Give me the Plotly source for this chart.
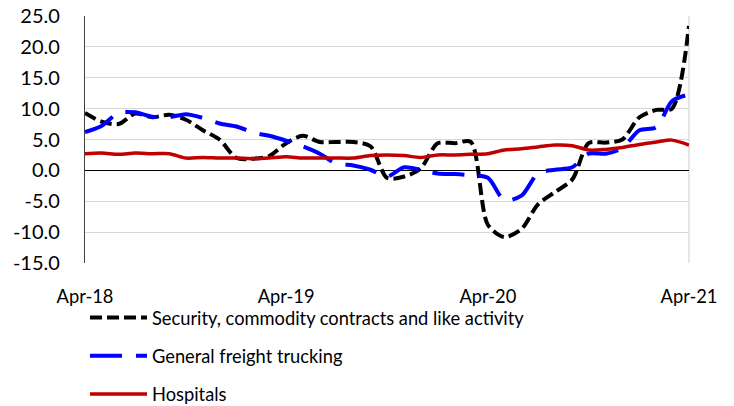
import pandas as pd
import plotly.graph_objects as go

months = pd.date_range("2018-04-01", "2021-04-01", freq="MS")

security = [9.3, 7.9, 7.5, 9.2, 8.6, 9.0, 8.2, 6.5, 5.0, 2.0,
            1.9, 2.3, 4.4, 5.6, 4.6, 4.6, 4.6, 3.9, -1.2, -1.0,
            0.3, 4.4, 4.4, 4.6, -8.8, -10.8, -9.5, -5.5, -3.5, -1.5,
            4.4, 4.5, 5.0, 8.6, 9.8, 10.0, 23.4]
trucking = [6.2, 7.2, 9.3, 9.4, 8.7, 8.6, 9.1, 8.5, 7.6, 7.1,
            6.1, 5.6, 4.8, 3.9, 2.7, 1.1, 0.8, 0.1, -1.0, 0.5,
            0.1, -0.5, -0.6, -0.8, -1.2, -4.8, -4.1, -0.5, 0.1, 0.5,
            2.7, 2.7, 3.6, 6.5, 7.0, 11.2, 12.3]
hospitals = [2.7, 2.8, 2.6, 2.8, 2.7, 2.7, 2.0, 2.1, 2.0, 2.0,
             1.9, 2.0, 2.2, 2.0, 2.0, 2.0, 2.0, 2.4, 2.5, 2.4,
             2.1, 2.5, 2.5, 2.6, 2.7, 3.3, 3.5, 3.8, 4.1, 4.0,
             3.3, 3.4, 3.7, 4.2, 4.6, 4.9, 4.1]

names = ["Security, commodity contracts and like activity",
         "General freight trucking", "Hospitals"]
x_tick_dates = ["2018-04-01", "2019-04-01", "2020-04-01", "2021-04-01"]
x_tick_text = ["Apr-18", "Apr-19", "Apr-20", "Apr-21"]
y_ticks = [-15, -10, -5, 0, 5, 10, 15, 20, 25]
y_tick_text = [f"{v:.1f}" for v in y_ticks]
y_range = [-15, 25]

FONT = "Lato"
FS = 18.3
FS_Y = 20

# layout geometry (pixels)
W, H = 734, 406
ML, MR, MT, MB = 85, 45, 16, 0
plot_bottom_px = 263
paper_h = H - MT - MB
dom0 = (H - MB - plot_bottom_px) / paper_h
zero_pos = dom0 + (0 - y_range[0]) / (y_range[1] - y_range[0]) * (1 - dom0)
legend_top_px = 299

fig = go.Figure()
styles = [
    dict(color="#000000", width=4, dash="12px,5px"),
    dict(color="#0000ff", width=4, dash="32px,14px"),
    dict(color="#c00000", width=3.5, dash="solid"),
]
for i, (name, vals, st) in enumerate(zip(names, [security, trucking, hospitals], styles)):
    fig.add_trace(go.Scatter(
        x=months, y=vals, name=name, mode="lines",
        line=dict(color=st["color"], width=st["width"], dash=st["dash"],
                  shape="spline", smoothing=0.8),
        legendgroup=f"g{i}",
    ))

x_range = [months[0], months[-1]]
fig.update_layout(
    width=W, height=H,
    margin=dict(l=ML, r=MR, t=MT, b=MB, autoexpand=False),
    plot_bgcolor="white", paper_bgcolor="white",
    font=dict(family=FONT, size=FS, color="#000000"),
    showlegend=True,
    legend=dict(
        x=0.0, xanchor="left", y=(H - MB - legend_top_px) / paper_h, yanchor="top",
        orientation="v", itemwidth=57, tracegroupgap=11.5,
        font=dict(family=FONT, size=FS, color="#000000"),
        bgcolor="rgba(0,0,0,0)",
    ),
    xaxis=dict(
        type="date", range=x_range, showgrid=False, zeroline=False,
        showline=False, ticks="", tickvals=x_tick_dates, ticktext=x_tick_text,
        ticklabelstandoff=21, ticklabeloverflow="allow", automargin=False,
        tickfont=dict(family=FONT, size=FS),
    ),
    xaxis2=dict(
        type="date", range=x_range, overlaying="x", anchor="free", position=zero_pos,
        showgrid=False, zeroline=False, showline=False, showticklabels=False,
        ticks="outside", ticklen=7, tickwidth=1.2, tickcolor="#000000",
        tickvals=x_tick_dates, automargin=False,
    ),
    xaxis3=dict(
        type="date", range=x_range, overlaying="x", anchor="free", position=zero_pos,
        showgrid=False, zeroline=False, showline=False, showticklabels=False,
        ticks="inside", ticklen=7, tickwidth=1.2, tickcolor="#000000",
        tickvals=x_tick_dates, automargin=False,
    ),
    yaxis=dict(
        domain=[dom0, 1],
        range=y_range, tickvals=y_ticks, ticktext=y_tick_text,
        showgrid=True, gridcolor="#d9d9d9", gridwidth=1.3,
        zeroline=True, zerolinecolor="#000000", zerolinewidth=1.3,
        showline=True, linecolor="#404040", linewidth=1.3,
        ticks="", ticklabelstandoff=20, ticklabeloverflow="allow", automargin=False,
        tickfont=dict(family=FONT, size=FS_Y),
    ),
    shapes=[dict(type="line", xref="paper", yref="y domain", x0=1, x1=1, y0=0, y1=1,
                 line=dict(color="#d9d9d9", width=1.3), layer="below")],
)

fig.write_html("out.html", config={"displayModeBar": False},
               post_script="document.body.style.margin='0px';")
